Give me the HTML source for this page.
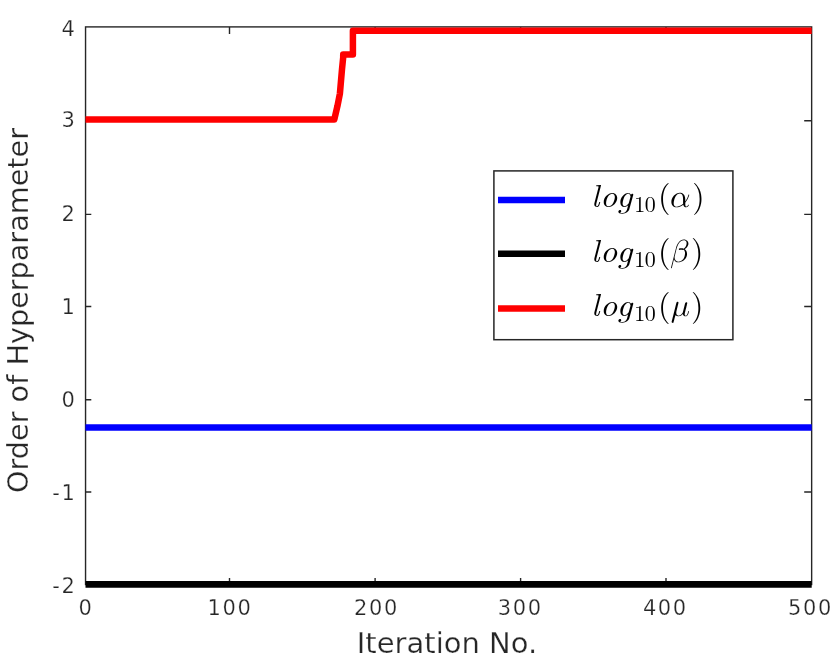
<!DOCTYPE html>
<html><head><meta charset="utf-8"><title>Hyperparameter plot</title>
<style>
html,body{margin:0;padding:0;background:#fff;}
body{width:834px;height:658px;overflow:hidden;}
svg{display:block;}
.tk{font-family:"DejaVu Sans","Liberation Sans",sans-serif;font-size:21px;fill:#262626;letter-spacing:1.6px;stroke:#fff;stroke-width:0.25px;}
.lb{font-family:"DejaVu Sans","Liberation Sans",sans-serif;font-size:29px;fill:#262626;stroke:#fff;stroke-width:0.25px;}
.lg{font-family:"Latin Modern Roman","Liberation Serif",serif;font-size:32px;fill:#000;}
.lg .it{font-style:italic;}
.lg .sub{font-size:22px;}
.lg .gk{font-family:"Latin Modern Math","Liberation Serif",serif;font-style:italic;}
</style></head>
<body>
<svg width="834" height="658" viewBox="0 0 834 658">
<rect x="0" y="0" width="834" height="658" fill="#fff"/>
<!-- axes box (drawn below data) -->
<g stroke="#262626" stroke-width="1.4" fill="none">
<rect x="85.55" y="26.9" width="726.1" height="557.6"/>
<!-- x ticks bottom -->
<path d="M229.5 585V578M375.1 585V578M520.6 585V578M666 585V578"/>
<!-- x ticks top -->
<path d="M229.5 27V34M375.1 27V34M520.6 27V34M666 27V34"/>
<!-- y ticks left -->
<path d="M85.6 120.7H91.3M85.6 214.4H91.3M85.6 306.5H91.3M85.6 399.8H91.3M85.6 492H91.3"/>
<!-- y ticks right -->
<path d="M811.7 120.7H804.2M811.7 214.4H804.2M811.7 306.5H804.2M811.7 399.8H804.2M811.7 492H804.2"/>
</g>
<!-- data -->
<path d="M85.5 427.4H811.7" stroke="#0000ff" stroke-width="6.5" fill="none"/>
<path d="M85.5 584.3H811.7" stroke="#000" stroke-width="6.8" fill="none"/>
<path d="M85.5 119.5H334.3L337.5 105.8L339.9 93.6L342 69.3L343.2 57.2V54.4H352.9V30.8H811.7" stroke="#ff0000" stroke-width="6.5" fill="none" stroke-linejoin="round"/>
<!-- y tick labels -->
<g class="tk" text-anchor="end">
<text x="76.4" y="35.5">4</text>
<text x="76.4" y="127.25">3</text>
<text x="76.4" y="221.05">2</text>
<text x="76.4" y="313.95">1</text>
<text x="76.4" y="407">0</text>
<text x="76.4" y="499.95">-1</text>
<text x="76.4" y="592.5">-2</text>
</g>
<!-- x tick labels -->
<g class="tk" text-anchor="middle">
<text x="86.00" y="614.5">0</text>
<text x="230.05" y="614.5">100</text>
<text x="376.55" y="614.5">200</text>
<text x="520.25" y="614.5">300</text>
<text x="665.35" y="614.5">400</text>
<text x="810.50" y="614.5">500</text>
</g>
<!-- axis labels -->
<text class="lb" x="447" y="652.5" text-anchor="middle">Iteration No.</text>
<text class="lb" transform="translate(28 310.5) rotate(-90)" text-anchor="middle" style="font-size:28.7px">Order of Hyperparameter</text>
<!-- legend -->
<rect x="493.9" y="170.9" width="239" height="168.8" fill="#fff" stroke="#262626" stroke-width="1.5"/>
<path d="M498 200H565" stroke="#0000ff" stroke-width="6.5"/>
<path d="M498 253.7H565" stroke="#000" stroke-width="6.5"/>
<path d="M498 308.6H565" stroke="#ff0000" stroke-width="6.5"/>
<g class="lg">
<text y="207.2"><tspan x="591.15" class="it">l</tspan><tspan x="600.1" class="it" textLength="17.3" lengthAdjust="spacingAndGlyphs">o</tspan><tspan x="616.6" class="it" textLength="15.9" lengthAdjust="spacingAndGlyphs">g</tspan><tspan x="634.15" y="212.0" class="sub">1</tspan><tspan x="644.75" class="sub">0</tspan><tspan x="658.05" y="207.2">(</tspan><tspan x="668.1" class="gk">α</tspan><tspan x="692.15">)</tspan></text>
<text y="262.2"><tspan x="591.15" class="it">l</tspan><tspan x="600.1" class="it" textLength="17.3" lengthAdjust="spacingAndGlyphs">o</tspan><tspan x="616.6" class="it" textLength="15.9" lengthAdjust="spacingAndGlyphs">g</tspan><tspan x="634.15" y="267.0" class="sub">1</tspan><tspan x="644.75" class="sub">0</tspan><tspan x="658.05" y="262.2">(</tspan><tspan x="669.7" class="gk">β</tspan><tspan x="691.1">)</tspan></text>
<text y="315.7"><tspan x="591.15" class="it">l</tspan><tspan x="600.1" class="it" textLength="17.3" lengthAdjust="spacingAndGlyphs">o</tspan><tspan x="616.6" class="it" textLength="15.9" lengthAdjust="spacingAndGlyphs">g</tspan><tspan x="634.15" y="320.5" class="sub">1</tspan><tspan x="644.75" class="sub">0</tspan><tspan x="658.05" y="315.7">(</tspan><tspan x="670.95" class="gk">μ</tspan><tspan x="691.1">)</tspan></text>
</g>
</svg>
</body></html>
